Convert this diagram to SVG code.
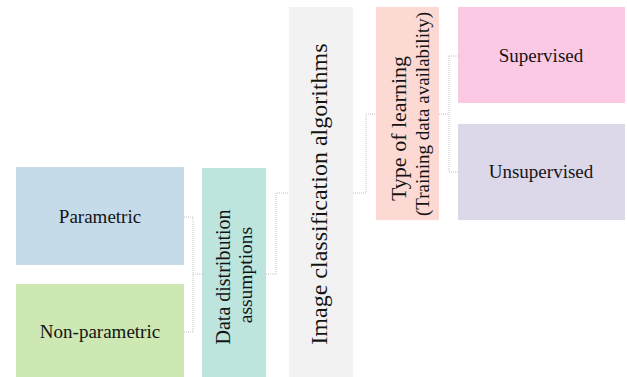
<svg xmlns="http://www.w3.org/2000/svg" width="627" height="377" viewBox="0 0 627 377">
<style>
  text { font-family: "Liberation Serif", "Times New Roman", serif; fill: #141414; text-anchor: middle; }
  .lbl { font-size: 19px; }
  .conn { fill: none; stroke: #c4c4c4; stroke-width: 1; stroke-dasharray: 1 1; }
</style>
<rect width="627" height="377" fill="#ffffff"/>
<g id="connectors">
  <path class="conn" d="M184,217 H193 V332 H184 M193,274 H202"/>
  <path class="conn" d="M266,274 H276 V193 H289"/>
  <path class="conn" d="M353,193 H366 V114 H376"/>
  <path class="conn" d="M439,114 H449 M449,56 V172 M449,56 H458 M449,172 H458"/>
</g>
<g id="parametric">
  <rect x="16" y="167" width="168" height="98" fill="#c6dbe9"/>
  <text class="lbl" x="100" y="223">Parametric</text>
</g>
<g id="non-parametric">
  <rect x="16" y="284" width="168" height="100" fill="#cde8b2"/>
  <text class="lbl" x="100" y="338">Non-parametric</text>
</g>
<g id="data-distribution">
  <rect x="202" y="168" width="64" height="216" fill="#bde5de"/>
  <text font-size="20" transform="translate(230,277) rotate(-90)">Data distribution</text>
  <text font-size="19.5" transform="translate(252,275) rotate(-90)">assumptions</text>
</g>
<g id="image-classification">
  <rect x="289" y="7" width="64" height="377" fill="#f2f2f2"/>
  <text font-size="24" transform="translate(327,194) rotate(-90)">Image classification algorithms</text>
</g>
<g id="type-of-learning">
  <rect x="376" y="7" width="63" height="213" fill="#fcd9d3"/>
  <text font-size="22" transform="translate(406,128.5) rotate(-90)">Type of learning</text>
  <text font-size="19" transform="translate(429,114) rotate(-90)">(Training data availability)</text>
</g>
<g id="supervised">
  <rect x="458" y="7" width="167" height="96" fill="#fcc9e4"/>
  <text class="lbl" x="541" y="62">Supervised</text>
</g>
<g id="unsupervised">
  <rect x="458" y="124" width="167" height="96" fill="#dcd8ea"/>
  <text class="lbl" x="541" y="178">Unsupervised</text>
</g>
</svg>
